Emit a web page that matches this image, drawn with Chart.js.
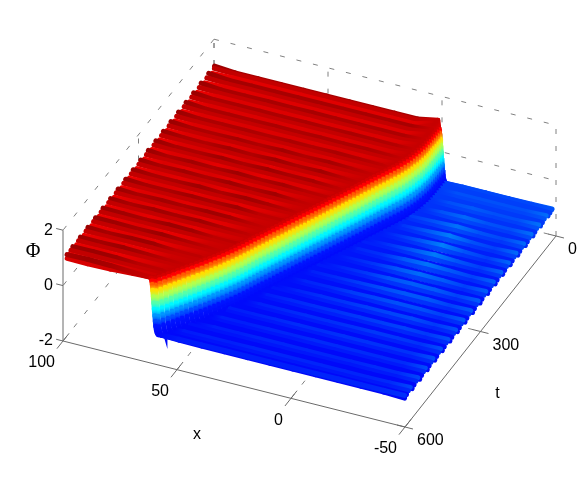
<!DOCTYPE html>
<html>
<head>
<meta charset="utf-8">
<style>
  html, body { margin: 0; padding: 0; background: #fff; }
  canvas { display: block; }
</style>
<script src="https://cdn.jsdelivr.net/npm/chart.js@4"></script>
</head>
<body>
<canvas id="surface" width="581" height="479"></canvas>
<script>
// tick labels
const xTicks = [100, 50, 0, -50];
const tTicks = [0, 300, 600];
const phiTicks = [-2, 0, 2];

// ridges run along x, one every 30 in t
const ridgeT = [0, 30, 60, 90, 120, 150, 180, 210, 240, 270, 300, 330, 360, 390, 420, 450, 480, 510, 540, 570, 600];
// four rows per ridge: offset in t, share of the ridge height, shade on the red and blue sides
const rowOffset = [0, 7.5, 15, 22.5];
const rowShape = [0.6, 0.25, -0.18, -0.6];
const rowShadeRed = [-1, -0.1, 0.8, 0.4];
const rowShadeBlue = [1, 0.5, 0, -0.5];

// kink centre in x, one value per row (t = 0, 7.5, 15 ...)
const frontX = [
  -0.5, -0.5, -0.45, -0.45,
  -0.4, -0.35, -0.35, -0.3,
  -0.2, -0.1, 0.1, 0.3,
  0.6, 1, 1.4, 1.8,
  2.4, 3, 3.6, 4.4,
  5.2, 6, 6.8, 7.7,
  8.5, 9.3, 10.1, 10.9,
  11.7, 12.5, 13.3, 14.2,
  15, 15.8, 16.6, 17.5,
  18.3, 19.1, 19.9, 20.8,
  21.6, 22.4, 23.3, 24.1,
  25, 25.8, 26.6, 27.5,
  28.3, 29.1, 30, 30.8,
  31.7, 32.5, 33.3, 34.2,
  35, 35.8, 36.6, 37.4,
  38.2, 39.1, 40, 41,
  42, 43, 44.1, 45.2,
  46.3, 47.4, 48.6, 49.8,
  51, 52.2, 53.4, 54.6,
  55.8, 57, 58.3, 59.5,
  60.8
];
// extra height on top of the wall for the first ridges
const wallOvershoot = [0.2, 0.12, 0.08, 0.05, 0.03];
// the blue floor looks lighter towards t = 0
const blueLift = [55, 50, 42, 34, 28, 22, 18, 14, 12, 10, 8, 6, 5, 4, 3, 2, 2, 0, 0, 0, 0];

// wall profile: x distance from the kink centre and the height there
const wallDx = [1.6, 1.3, 1, 0.8, 0.6, 0.35, 0.15, -0.05, -0.3, -0.5, -0.7, -1, -1.35, -1.8];
const wallPhi = [1, 0.97, 0.88, 0.75, 0.55, 0.32, 0.1, -0.12, -0.35, -0.55, -0.72, -0.86, -0.95, -1];

// ridge height (in 0.01 of phi) per ridge, at these x positions
const xKnots = [99, 90, 80, 70, 60, 50, 40, 30, 20, 10, 0, -10, -20, -30, -40, -49];
const ridgeHeight = [
  [22, 12, 11, 11, 11, 11, 11, 11, 11, 11, 3, 3, 3, 3, 3, 6],
  [22, 11, 11, 10, 10, 10, 10, 10, 10, 10, 4, 4, 4, 4, 4, 9],
  [21, 10, 9, 10, 9, 10, 9, 9, 9, 8, 4, 5, 7, 5, 5, 11],
  [20, 9, 9, 9, 8, 9, 8, 9, 8, 6, 4, 7, 11, 7, 6, 12],
  [20, 9, 9, 8, 9, 8, 9, 8, 9, 5, 4, 8, 14, 8, 6, 12],
  [19, 9, 8, 9, 7, 9, 7, 9, 7, 3, 4, 10, 17, 9, 6, 13],
  [19, 9, 8, 11, 7, 12, 7, 11, 6, 3, 4, 10, 18, 10, 6, 13],
  [18, 9, 7, 12, 7, 13, 8, 12, 4, 3, 5, 11, 18, 11, 7, 13],
  [18, 9, 8, 13, 8, 13, 9, 10, 3, 3, 5, 12, 17, 12, 8, 13],
  [18, 8, 12, 8, 13, 8, 11, 5, 3, 3, 6, 12, 16, 13, 8, 13],
  [17, 9, 12, 8, 13, 8, 12, 3, 3, 4, 7, 12, 14, 13, 9, 13],
  [17, 9, 9, 13, 8, 13, 9, 3, 3, 5, 8, 11, 13, 13, 9, 13],
  [17, 10, 9, 12, 9, 13, 3, 3, 4, 5, 8, 10, 12, 12, 9, 13],
  [16, 9, 12, 9, 13, 11, 3, 3, 4, 6, 7, 9, 10, 11, 8, 12],
  [16, 9, 13, 10, 13, 7, 3, 3, 5, 6, 7, 8, 9, 10, 8, 12],
  [16, 12, 9, 14, 12, 3, 3, 4, 5, 6, 6, 7, 8, 8, 7, 12],
  [15, 13, 10, 14, 8, 3, 3, 4, 5, 6, 6, 7, 7, 7, 7, 12],
  [15, 10, 14, 13, 3, 3, 4, 4, 5, 5, 6, 6, 6, 6, 6, 12],
  [14, 11, 15, 9, 3, 3, 4, 4, 5, 5, 5, 5, 5, 6, 6, 11],
  [14, 15, 13, 5, 3, 3, 4, 4, 5, 5, 5, 5, 5, 5, 6, 11],
  [10, 13, 10, 3, 3, 3, 4, 4, 4, 4, 4, 5, 5, 5, 6, 7]
];

// colour stops against height
const colorPhi = [-1, -0.7, -0.4, -0.1, 0.2, 0.5, 0.7, 0.88, 1];
const colorRed = [0, 0, 0, 0, 128, 255, 255, 255, 198];
const colorGreen = [8, 20, 128, 255, 255, 255, 128, 0, 0];
const colorBlue = [250, 255, 255, 255, 128, 0, 0, 0, 0];

function project(x, t, phi) {
  const u = (100 - x) / 150;
  const v = (600 - t) / 600;
  return {
    x: 63 + 342 * u + 151 * v,
    y: 341 + 86 * u - 191 * v - 27.7 * (phi + 2)
  };
}

function stopValue(stops, phi) {
  if (phi <= colorPhi[0]) return stops[0];
  for (let i = 1; i < colorPhi.length; i++) {
    if (phi <= colorPhi[i]) {
      const f = (phi - colorPhi[i - 1]) / (colorPhi[i] - colorPhi[i - 1]);
      return stops[i - 1] + (stops[i] - stops[i - 1]) * f;
    }
  }
  return stops[stops.length - 1];
}

// shade only changes the brightness, the base height picks the colour
function pointColor(phi, shade, lift) {
  let r = stopValue(colorRed, phi);
  let g = stopValue(colorGreen, phi);
  let b = stopValue(colorBlue, phi);
  if (phi >= 1) {
    r += Math.max(-0.14, Math.min(0.14, shade)) * 300;
  } else if (phi <= -1) {
    g += Math.max(shade, 0) * 560 + lift;
    b += Math.min(shade, 0) * 80;
  }
  return [r, g, b].map(v => Math.max(0, Math.min(255, Math.round(v))));
}

const ctx2d = document.getElementById('surface').getContext('2d');

function buildRow(ridge, part, rowIndex) {
  // thick rows would stick out past the surface edge, so keep the end rows inside it
  const t = Math.min(593, Math.max(7, ridgeT[ridge] + rowOffset[part]));
  const front = frontX[rowIndex];
  const points = [];
  const colors = [];
  const add = (x, base, ripple, shade) => {
    points.push(project(x, t, base + ripple));
    colors.push(pointColor(base, shade, blueLift[ridge]));
  };
  xKnots.forEach((x, j) => {
    const h = ridgeHeight[ridge][j] * 0.01;
    if (x > front + wallDx[0]) add(x, 1, h * rowShape[part], h * rowShadeRed[part]);
  });
  const over = wallOvershoot[ridge] || 0;
  wallDx.forEach((dx, j) => {
    add(front + dx, wallPhi[j], j === 0 ? over : 0, 0);
  });
  xKnots.forEach((x, j) => {
    const h = ridgeHeight[ridge][j] * 0.01;
    if (x < front + wallDx[wallDx.length - 1]) add(x, -1, h * rowShape[part], h * rowShadeBlue[part]);
  });
  return {
    type: 'line',
    data: points,
    pointRadius: 0,
    borderWidth: 5,
    borderCapStyle: 'round',
    borderColor: '#c00000',
    fill: false,
    tension: 0,
    segment: {
      // gradient between the two ends of every piece of the row
      borderColor: c => {
        const grad = ctx2d.createLinearGradient(c.p0.x, c.p0.y, c.p1.x, c.p1.y);
        grad.addColorStop(0, 'rgb(' + colors[c.p0DataIndex].join(',') + ')');
        grad.addColorStop(1, 'rgb(' + colors[c.p1DataIndex].join(',') + ')');
        return grad;
      }
    }
  };
}

function axisLine(a, b, dashed) {
  return {
    type: 'line',
    data: [project(a[0], a[1], a[2]), project(b[0], b[1], b[2])],
    pointRadius: 0,
    borderWidth: 1,
    borderColor: dashed ? '#808080' : '#6a6a6a',
    borderDash: dashed ? [5, 12] : [],
    fill: false
  };
}

// painting order: box at the back, rows from far to near, axes on top
const painted = [];

xTicks.forEach(x => {
  if (x !== -50) painted.push(axisLine([x, 0, -2], [x, 600, -2], true));
  painted.push(axisLine([x, 0, -2], [x, 0, 2], true));
});
tTicks.forEach(t => {
  if (t !== 600) {
    painted.push(axisLine([100, t, -2], [-50, t, -2], true));
    painted.push(axisLine([100, t, -2], [100, t, 2], true));
  }
});
phiTicks.forEach(p => {
  if (p !== -2) {
    painted.push(axisLine([100, 0, p], [100, 600, p], true));
    painted.push(axisLine([100, 0, p], [-50, 0, p], true));
  }
});

let rowIndex = 0;
ridgeT.forEach((t, ridge) => {
  rowOffset.forEach((off, part) => {
    if (t + off <= 600) {
      painted.push(buildRow(ridge, part, rowIndex));
      rowIndex++;
    }
  });
});

painted.push(axisLine([100, 600, -2], [100, 600, 2], false));
painted.push(axisLine([100, 600, -2], [-50, 600, -2], false));
painted.push(axisLine([-50, 600, -2], [-50, 0, -2], false));
xTicks.forEach(x => painted.push(axisLine([x, 576, -2], [x, 624, -2], false)));
tTicks.forEach(t => painted.push(axisLine([-53.5, t, -2], [-46.5, t, -2], false)));
phiTicks.forEach(p => painted.push(axisLine([100, 600, p], [103, 600, p], false)));

// lower order is drawn on top
painted.forEach((d, i) => { d.order = painted.length - i; });

const textLabels = {
  id: 'textLabels',
  afterDatasetsDraw(chart) {
    const c = chart.ctx;
    const sx = chart.scales.x;
    const sy = chart.scales.y;
    const put = (text, pos, dx, dy, align, font) => {
      c.font = font;
      c.textAlign = align;
      c.textBaseline = 'middle';
      c.fillStyle = '#000';
      c.fillText(text, sx.getPixelForValue(pos.x) + dx, sy.getPixelForValue(pos.y) + dy);
    };
    const tickFont = '16px "Liberation Sans"';
    c.save();
    xTicks.forEach(x => put(String(x), project(x, 600, -2), -8, 22, 'right', tickFont));
    tTicks.forEach(t => put(String(t), project(-50, t, -2), 12, 14, 'left', tickFont));
    phiTicks.forEach(p => put(String(p), project(100, 600, p), -10, 0, 'right', tickFont));
    put('x', project(25, 600, -2), -37, 51, 'center', tickFont);
    put('t', project(-50, 300, -2), 17, 62, 'center', tickFont);
    put('Φ', project(100, 600, 0), -30, -34, 'center', '20px "Liberation Serif"');
    c.restore();
  }
};

new Chart(document.getElementById('surface'), {
  type: 'line',
  data: { datasets: painted },
  options: {
    responsive: false,
    animation: false,
    layout: { padding: 0 },
    plugins: { legend: { display: false }, tooltip: { enabled: false } },
    scales: {
      x: { type: 'linear', min: 0, max: 581, display: false },
      y: { type: 'linear', min: 0, max: 479, reverse: true, display: false }
    }
  },
  plugins: [textLabels]
});
</script>
</body>
</html>
